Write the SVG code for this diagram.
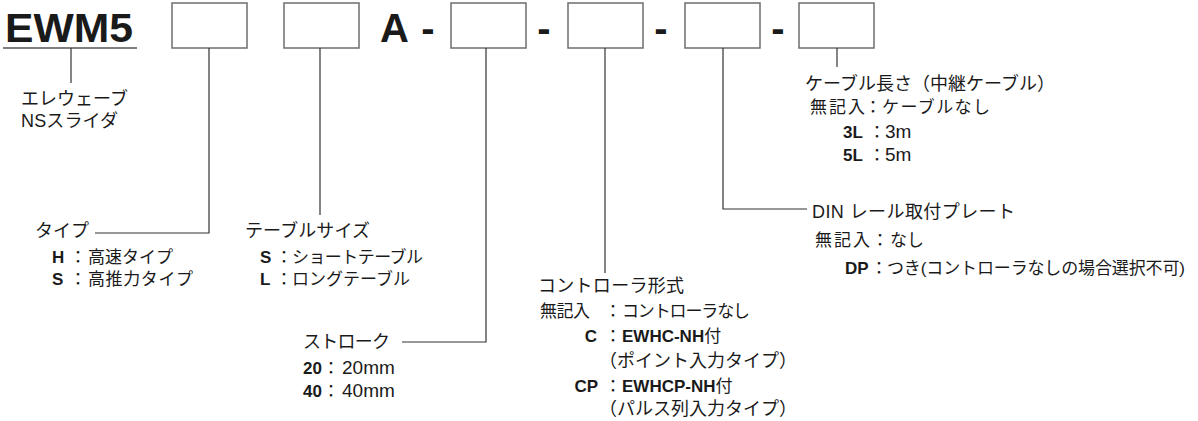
<svg xmlns="http://www.w3.org/2000/svg" width="1198" height="421" viewBox="0 0 1198 421">
<style>
text{font-family:"Liberation Sans","Noto Sans CJK JP",sans-serif;fill:#1a1a1a;font-size:17px}
.big{font-size:40px;font-weight:bold}
.t{font-size:18px}
.b{font-weight:bold}
.c{text-anchor:middle}
.e{text-anchor:end}
.n{font-size:19px}
.box{fill:#fff;stroke:#6e6e6e;stroke-width:1.5}
.ln{fill:none;stroke:#333;stroke-width:1.2}
</style>
<rect width="1198" height="421" fill="#fff"/>
<g id="header">
<text class="big" x="5" y="42" textLength="128" lengthAdjust="spacingAndGlyphs">EWM5</text>
<line x1="3" y1="48" x2="137" y2="48" stroke="#555" stroke-width="1.5"/>
<text class="big" x="380" y="42">A</text>
<text class="big c" x="428" y="42">-</text>
<text class="big c" x="544" y="42">-</text>
<text class="big c" x="661" y="42">-</text>
<text class="big c" x="778" y="42">-</text>
</g>
<g id="box-type"><rect class="box" x="172" y="3" width="75" height="45"/></g>
<g id="box-table"><rect class="box" x="284" y="3" width="75" height="45"/></g>
<g id="box-stroke"><rect class="box" x="451" y="3" width="75" height="45"/></g>
<g id="box-controller"><rect class="box" x="568" y="3" width="75" height="45"/></g>
<g id="box-din"><rect class="box" x="685" y="3" width="75" height="45"/></g>
<g id="box-cable"><rect class="box" x="799" y="3" width="75" height="45"/></g>
<g id="connectors">
<path class="ln" d="M71 48V83"/>
<path class="ln" d="M209 48V233H95"/>
<path class="ln" d="M320 48V215"/>
<path class="ln" d="M486 48V342H402"/>
<path class="ln" d="M605 48V273"/>
<path class="ln" d="M723 48V209H807"/>
<path class="ln" d="M837 48V67"/>
</g>
<g id="series">
<text class="t" x="21" y="105" textLength="107">エレウェーブ</text>
<text class="t" x="21" y="127" textLength="97">NSスライダ</text>
</g>
<g id="type">
<text class="t" x="35" y="237">タイプ</text>
<text class="b" x="52" y="263">H</text><text class="c" x="78" y="263">：</text><text x="88" y="263" textLength="85">高速タイプ</text>
<text class="b" x="52" y="285">S</text><text class="c" x="78" y="285">：</text><text x="88" y="285" textLength="105">高推力タイプ</text>
</g>
<g id="table">
<text class="t" x="245" y="237" textLength="125">テーブルサイズ</text>
<text class="b" x="260" y="263">S</text><text class="c" x="284" y="263">：</text><text x="292" y="263" textLength="131">ショートテーブル</text>
<text class="b" x="260" y="285">L</text><text class="c" x="284" y="285">：</text><text x="292" y="285" textLength="118">ロングテーブル</text>
</g>
<g id="stroke">
<text class="t" x="303" y="348" textLength="87">ストローク</text>
<text class="b" x="303" y="374">20</text><text class="c" x="331" y="374">：</text><text class="n" x="342" y="374">20mm</text>
<text class="b" x="303" y="397">40</text><text class="c" x="331" y="397">：</text><text class="n" x="342" y="397">40mm</text>
</g>
<g id="controller">
<text class="t" x="538" y="292" textLength="146">コントローラ形式</text>
<text x="540" y="317" textLength="50">無記入</text><text class="c" x="613" y="317">：</text><text x="622" y="317" textLength="128">コントローラなし</text>
<text class="b e" x="597" y="342">C</text><text class="c" x="613" y="342">：</text><text x="622" y="342"><tspan class="b">EWHC-NH</tspan>付</text>
<text class="t" x="599" y="367">（ポイント入力タイプ）</text>
<text class="b e" x="598" y="392">CP</text><text class="c" x="613" y="392">：</text><text x="622" y="392"><tspan class="b">EWHCP-NH</tspan>付</text>
<text class="t" x="599" y="415">（パルス列入力タイプ）</text>
</g>
<g id="din">
<text class="t" x="812" y="218" textLength="203">DIN レール取付プレート</text>
<text x="815" y="246" textLength="55">無記入</text><text class="c" x="880" y="246">：</text><text x="890" y="246">なし</text>
<text class="b" x="845" y="274">DP</text><text class="c" x="879" y="274">：</text><text x="887" y="274" textLength="298">つき(コントローラなしの場合選択不可)</text>
</g>
<g id="cable">
<text class="t" x="805" y="90" textLength="250">ケーブル長さ（中継ケーブル）</text>
<text x="810" y="113" textLength="55">無記入</text><text class="c" x="873" y="113">：</text><text x="882" y="113" textLength="108">ケーブルなし</text>
<text class="b" x="843" y="138">3L</text><text class="c" x="877" y="138">：</text><text class="n" x="885" y="138">3m</text>
<text class="b" x="843" y="161">5L</text><text class="c" x="877" y="161">：</text><text class="n" x="885" y="161">5m</text>
</g>
</svg>
